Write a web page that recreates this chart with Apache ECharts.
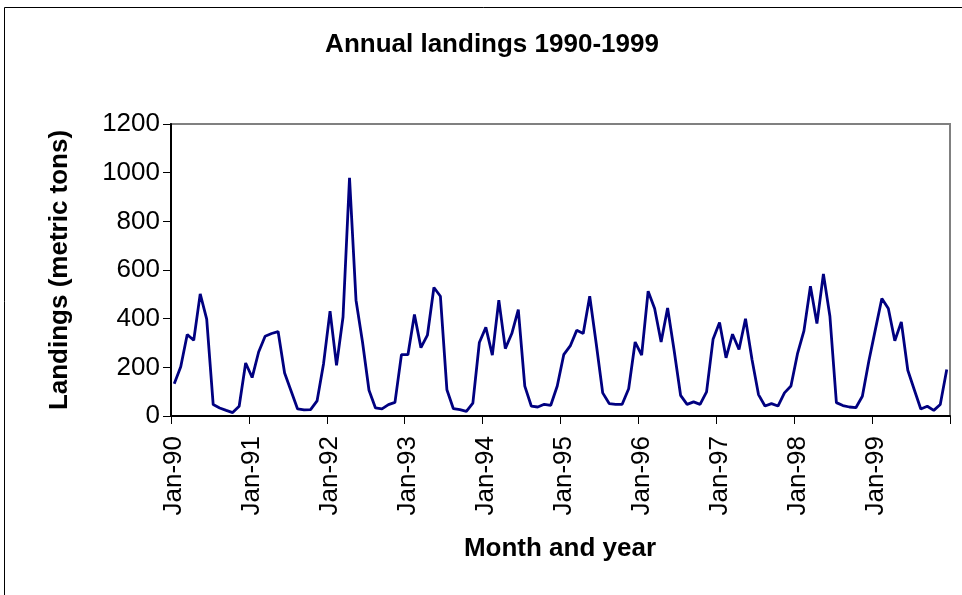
<!DOCTYPE html>
<html>
<head>
<meta charset="utf-8">
<script src="https://cdn.jsdelivr.net/npm/echarts@6/dist/echarts.min.js"></script>
<style>
  html, body { margin: 0; padding: 0; background: #fff; }
  #chart { width: 962px; height: 595px; }
</style>
</head>
<body>
<div id="chart"></div>
<script>
// Monthly landings, January 1990 to December 1999 (metric tons)
const years = ['90', '91', '92', '93', '94', '95', '96', '97', '98', '99'];
const months = ['Jan', 'Feb', 'Mar', 'Apr', 'May', 'Jun', 'Jul', 'Aug', 'Sep', 'Oct', 'Nov', 'Dec'];

const landings1990 = [133, 202, 335, 311, 502, 398, 47, 33, 23, 14, 40, 218];
const landings1991 = [158, 263, 328, 339, 347, 177, 103, 29, 25, 26, 62, 215];
const landings1992 = [431, 208, 407, 979, 476, 304, 106, 33, 29, 47, 56, 252];
const landings1993 = [252, 417, 281, 332, 528, 492, 108, 30, 26, 19, 53, 302];
const landings1994 = [364, 250, 476, 277, 339, 437, 123, 41, 37, 48, 44, 123];
const landings1995 = [252, 288, 352, 339, 492, 298, 95, 51, 48, 48, 112, 304];
const landings1996 = [250, 513, 442, 304, 444, 270, 85, 48, 58, 48, 99, 315];
const landings1997 = [384, 239, 336, 273, 400, 232, 88, 41, 51, 41, 95, 123];
const landings1998 = [255, 350, 533, 380, 584, 410, 55, 43, 37, 34, 81, 226];
const landings1999 = [355, 483, 442, 309, 387, 188, 108, 29, 40, 23, 47, 191];

const yTicks = [0, 200, 400, 600, 800, 1000, 1200];

const categories = [];
years.forEach(function (y) {
  months.forEach(function (m) { categories.push(m + '-' + y); });
});
const values = [].concat(
  landings1990, landings1991, landings1992, landings1993, landings1994,
  landings1995, landings1996, landings1997, landings1998, landings1999
);

const FONT = '"Liberation Sans", Arial, sans-serif';
const FS = 26;
const chart = echarts.init(document.getElementById('chart'), null, { renderer: 'canvas' });

chart.setOption({
  backgroundColor: '#ffffff',
  animation: false,
  grid: {
    left: 171, top: 124, right: 12, bottom: 179,
    show: true, borderColor: '#808080', borderWidth: 2, backgroundColor: 'transparent'
  },
  xAxis: {
    type: 'category',
    data: categories,
    boundaryGap: true,
    axisLine: { lineStyle: { color: '#000', width: 2 } },
    axisTick: { show: true, interval: 11, length: 8, lineStyle: { color: '#000', width: 1 } },
    axisLabel: {
      interval: 11, rotate: 90, margin: 20,
      fontFamily: FONT, fontSize: FS, color: '#000'
    },
    splitLine: { show: false }
  },
  yAxis: {
    type: 'value',
    min: yTicks[0], max: yTicks[yTicks.length - 1], interval: 200,
    axisLine: { show: true, lineStyle: { color: '#000', width: 2 } },
    axisTick: { show: true, length: 8, lineStyle: { color: '#000', width: 1 } },
    axisLabel: {
      margin: 11, fontFamily: FONT, fontSize: FS, color: '#000',
      formatter: function (v) { return String(v); }
    },
    splitLine: { show: false }
  },
  series: [{
    type: 'line',
    data: values,
    symbol: 'none',
    lineStyle: { color: '#000080', width: 2.8 }
  }],
  graphic: [
    {
      type: 'rect', silent: true,
      shape: { x: 4.5, y: 7.5, width: 1200, height: 1200 },
      style: { fill: 'none', stroke: '#000', lineWidth: 1 }
    },
    {
      type: 'text', x: 492, y: 45,
      style: {
        text: 'Annual landings 1990-1999', fontFamily: FONT, fontWeight: 'bold',
        fontSize: FS, fill: '#000', align: 'center', verticalAlign: 'middle'
      }
    },
    {
      type: 'text', x: 560, y: 549,
      style: {
        text: 'Month and year', fontFamily: FONT, fontWeight: 'bold',
        fontSize: FS, fill: '#000', align: 'center', verticalAlign: 'middle'
      }
    },
    {
      type: 'text', x: 60, y: 270, rotation: Math.PI / 2,
      style: {
        text: 'Landings (metric tons)', fontFamily: FONT, fontWeight: 'bold',
        fontSize: FS, fill: '#000', align: 'center', verticalAlign: 'middle'
      }
    }
  ]
});
</script>
</body>
</html>
